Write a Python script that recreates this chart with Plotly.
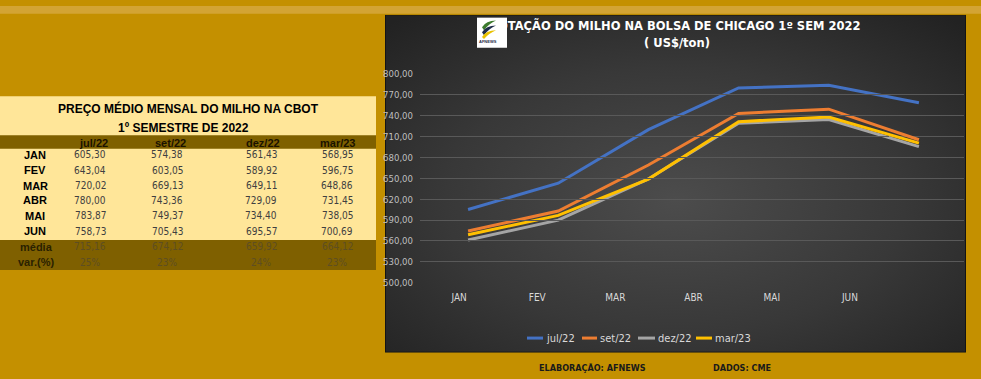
import base64
import plotly.graph_objects as go

# ---------------- data ----------------
months = ["JAN", "FEV", "MAR", "ABR", "MAI", "JUN"]
series_names = ["jul/22", "set/22", "dez/22", "mar/23"]
jul22 = [605.30, 643.04, 720.02, 780.00, 783.87, 758.73]
set22 = [574.38, 603.05, 669.13, 743.36, 749.37, 705.43]
dez22 = [561.43, 589.92, 649.11, 729.09, 734.40, 695.57]
mar23 = [568.95, 596.75, 648.86, 731.45, 738.05, 700.69]
media = [715.16, 674.12, 659.92, 664.12]
var_pct = ["25%", "23%", "24%", "23%"]
series_colors = ["#4472C4", "#ED7D31", "#A5A5A5", "#FFC000"]
y_ticks = [500, 530, 560, 590, 620, 650, 680, 710, 740, 770, 800]

chart_title = "COTAÇÃO DO MILHO NA BOLSA DE CHICAGO 1º SEM 2022"
chart_subtitle = "( US$/ton)"
table_title1 = "PREÇO MÉDIO MENSAL DO MILHO NA CBOT"
table_title2 = "1º SEMESTRE DE 2022"
footer_left = "ELABORAÇÃO: AFNEWS"
footer_right = "DADOS: CME"

W, H = 981, 379
GOLD = "#C49000"
COND = "DejaVu Sans Condensed, DejaVu Sans, sans-serif"
ARIAL = "Liberation Sans, Arial, sans-serif"

def px(x):
    return x / W

def py(y):
    return 1 - y / H

def fmt(v):
    return f"{v:.2f}".replace(".", ",")

all_series = [jul22, set22, dez22, mar23]

fig = go.Figure()

# invisible helper trace so the label axis (x2) gets its categories
fig.add_trace(go.Scatter(x=months, y=jul22, xaxis="x2", yaxis="y", mode="lines",
                         line=dict(width=0), opacity=0, hoverinfo="skip", showlegend=False))

for name, vals, col in zip(series_names, all_series, series_colors):
    fig.add_trace(go.Scatter(x=months, y=vals, name=name, mode="lines",
                             line=dict(color=col, width=3), xaxis="x", yaxis="y",
                             showlegend=False))

# chart title as text trace (so the logo can cover its start)
fig.add_trace(go.Scatter(x=[675], y=[22], mode="text", text=[chart_title],
                         textfont=dict(family="DejaVu Sans, sans-serif", size=11.5, color="white", weight="bold"),
                         xaxis="x3", yaxis="y3", hoverinfo="skip", showlegend=False, cliponaxis=False))
fig.add_trace(go.Scatter(x=[677], y=[39], mode="text", text=[chart_subtitle],
                         textfont=dict(family="DejaVu Sans, sans-serif", size=11.5, color="white", weight="bold"),
                         xaxis="x3", yaxis="y3", hoverinfo="skip", showlegend=False, cliponaxis=False))

# ---------------- decorations ----------------
shapes = []
def rect(x0, y0, x1, y1, fill, layer="below", line=None):
    shapes.append(dict(type="rect", xref="x3", yref="y3", x0=x0, y0=y0, x1=x1, y1=y1,
                       fillcolor=fill, line=line or dict(width=0), layer=layer))

rect(0, 0, W, 8, "#D3A434")
rect(0, 93, 376, 241, "#FFE699")
rect(0, 133, 376, 147, "#7F6000")
rect(0, 241, 376, 272, "#7F6000")

# logo
rect(477, 12, 507, 43, "#FFFFFF", layer="above")
logo_paths = [
    ("M 482 22 Q 486 15 496 15 Q 489 18 484 25 Z", "#3E7B2E"),
    ("M 482 27 Q 486 20 496 20 Q 489 23 484 30 Z", "#1F2D4A"),
    ("M 482 32 Q 486 25 496 25 Q 489 28 484 34 Z", "#E8C100"),
]
for p, c in logo_paths:
    shapes.append(dict(type="path", xref="x3", yref="y3", path=p, fillcolor=c,
                       line=dict(width=0), layer="above"))

# custom legend lines
legend_pos = [(527, 543), (582, 597), (638, 655), (696, 712)]
for (a, b), col in zip(legend_pos, series_colors):
    shapes.append(dict(type="line", xref="x3", yref="y3", x0=a, x1=b, y0=342, y1=342,
                       line=dict(color=col, width=3), layer="above"))

annotations = []
def txt(x, y, s, size=11, color="black", family=ARIAL, bold=False, xanchor="center"):
    annotations.append(dict(xref="x3", yref="y3", x=x, y=y, text=s, showarrow=False,
                            xanchor=xanchor, yanchor="middle",
                            font=dict(family=family, size=size, color=color,
                                      weight="bold" if bold else "normal")))

# table
txt(188, 106, table_title1, size=12, bold=True)
txt(183, 126, table_title2, size=12, bold=True)
head_x = [93, 170, 263, 337]
val_x = [90, 167, 261, 337]
for hx, n in zip(head_x, series_names):
    txt(hx, 141, n, size=11, color="#1A1200", bold=True)
row_y = [153, 169, 185, 200, 216, 232]
for i, (m, ry) in enumerate(zip(months, row_y)):
    txt(35, ry, m, size=11, bold=True)
    for vx, vals in zip(val_x, all_series):
        txt(vx, ry, fmt(vals[i]), size=10, color="#404040", family=COND)
txt(36, 248, "média", size=11, color="#2A2200", bold=True)
txt(36, 264, "var.(%)", size=11, color="#2A2200", bold=True)
for vx, m, v in zip(val_x, media, var_pct):
    txt(vx, 248, fmt(m), size=10, color="#5E4E22", family=COND)
    txt(vx, 264, v, size=10, color="#5E4E22", family=COND)

# logo text
txt(488, 37, "AFNEWS", size=4, color="#1F2D4A", bold=True)

# legend text
for (a, b), n in zip(legend_pos, series_names):
    txt(b + 1, 342, n, size=11, color="#D9D9D9", family=COND, xanchor="left")

# footer
txt(592, 373, footer_left, size=9, color="#1A1A1A", family=COND, bold=True)
txt(742, 373, footer_right, size=9, color="#1A1A1A", family=COND, bold=True)

# gradient panel as svg image
svg = ('<svg xmlns="http://www.w3.org/2000/svg" width="581" height="348" viewBox="0 0 581 348">'
       '<defs><radialGradient id="g" cx="50%" cy="55%" r="72%">'
       '<stop offset="0" stop-color="#4C4C4C"/><stop offset="0.55" stop-color="#383838"/>'
       '<stop offset="1" stop-color="#222222"/></radialGradient></defs>'
       '<rect x="0.5" y="0.5" width="580" height="347" fill="url(#g)" stroke="#141414" stroke-width="1"/></svg>')
src = "data:image/svg+xml;base64," + base64.b64encode(svg.encode()).decode()

fig.update_layout(
    width=W, height=H, margin=dict(l=0, r=0, t=0, b=0),
    paper_bgcolor=GOLD, plot_bgcolor="rgba(0,0,0,0)",
    separators=",.", showlegend=False,
    shapes=shapes, annotations=annotations,
    images=[dict(source=src, xref="paper", yref="paper", x=px(385), y=py(9),
                 sizex=581 / W, sizey=348 / H, xanchor="left", yanchor="top",
                 sizing="stretch", layer="below")],
    xaxis=dict(domain=[px(423), px(964)], type="category", categoryorder="array",
               categoryarray=months, range=[-0.5, 5.5], showticklabels=False,
               showgrid=False, zeroline=False, showline=False, anchor="y"),
    yaxis=dict(domain=[py(285), py(70)], range=[500, 800], tickmode="array", tickvals=y_ticks,
               tickformat=".2f", gridcolor="#595959", gridwidth=1, zeroline=False, showline=False,
               tickfont=dict(family=COND, size=9.5, color="#BFBFBF"), ticklabelstandoff=9,
               anchor="x"),
    xaxis2=dict(domain=[px(420), px(889)], type="category", categoryorder="array",
                categoryarray=months, range=[-0.5, 5.5], anchor="free", position=py(292),
                showgrid=False, zeroline=False, showline=False, ticks="",
                tickfont=dict(family=COND, size=10, color="#D9D9D9")),
    xaxis3=dict(domain=[0, 1], range=[0, W], visible=False, anchor="y3"),
    yaxis3=dict(domain=[0, 1], range=[H, 0], visible=False, anchor="x3"),
)

fig.write_html("out.html", config={"displayModeBar": False},
               post_script="document.body.style.margin='0px';")
